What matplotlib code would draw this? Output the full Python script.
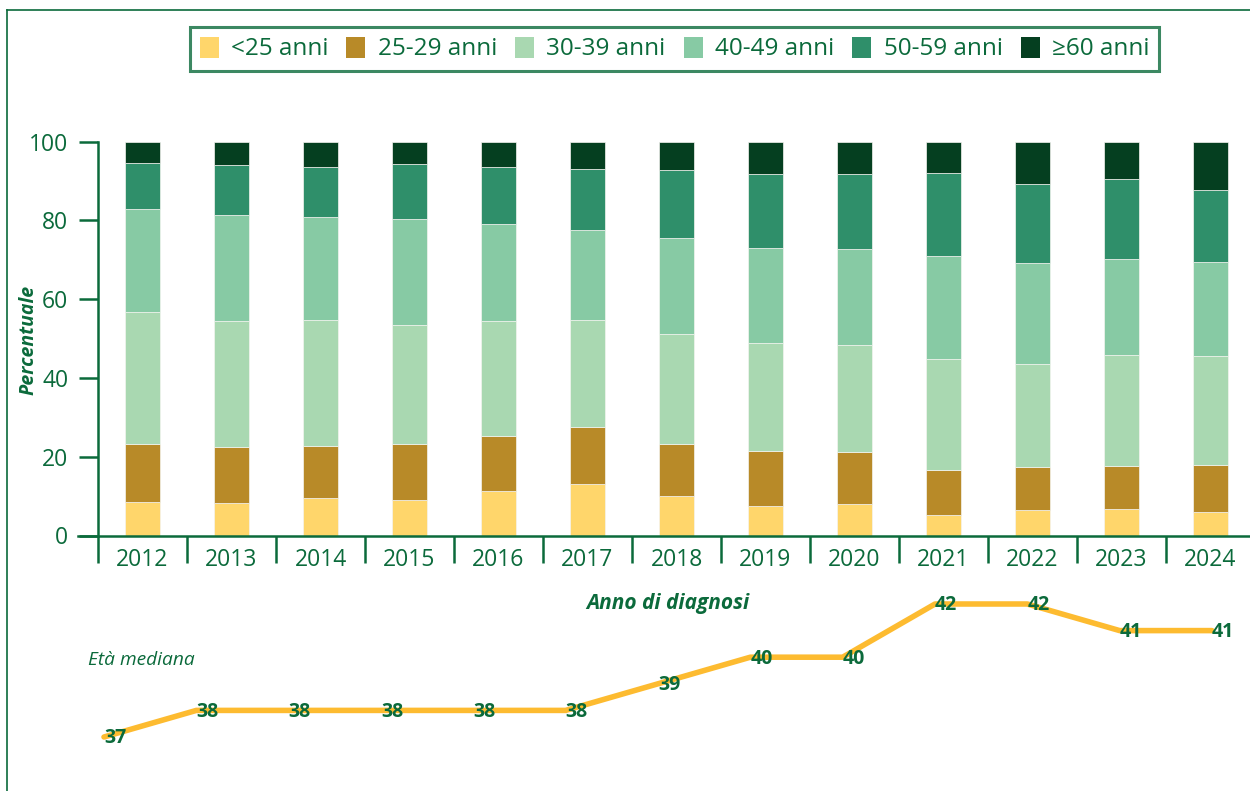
import numpy as np
import matplotlib.pyplot as plt
from matplotlib.patches import Patch
from matplotlib.lines import Line2D

plt.rcParams['font.family'] = ['Open Sans', 'DejaVu Sans']

# Data
years = ["2012", "2013", "2014", "2015", "2016", "2017", "2018",
         "2019", "2020", "2021", "2022", "2023", "2024"]
age_groups = ["<25 anni", "25-29 anni", "30-39 anni", "40-49 anni", "50-59 anni", "≥60 anni"]
under25 = [8.6, 8.2, 9.5, 8.9, 11.2, 13.0, 10.1, 7.6, 7.9, 5.2, 6.6, 6.7, 6.0]
age25_29 = [14.6, 14.3, 13.2, 14.3, 14.1, 14.6, 13.1, 13.8, 13.4, 11.5, 10.8, 10.9, 11.9]
age30_39 = [33.6, 32.0, 32.0, 30.3, 29.2, 27.0, 28.0, 27.5, 27.1, 28.1, 26.1, 28.2, 27.7]
age40_49 = [26.1, 26.9, 26.2, 26.8, 24.6, 23.1, 24.3, 24.2, 24.4, 26.2, 25.8, 24.3, 23.9]
age50_59 = [11.7, 12.7, 12.7, 14.0, 14.5, 15.4, 17.3, 18.7, 19.0, 21.0, 20.0, 20.4, 18.3]
over60 = [5.4, 5.9, 6.4, 5.7, 6.4, 6.9, 7.2, 8.2, 8.2, 8.0, 10.7, 9.5, 12.2]
median_age = [37, 38, 38, 38, 38, 38, 39, 40, 40, 42, 42, 41, 41]

colors = ["#FFD66B", "#B88A28", "#A9D8B1", "#87CAA4", "#2F8F6A", "#053F20"]
green = "#0B6A3B"
W, H = 1250, 791

fig = plt.figure(figsize=(12.5, 7.91), dpi=100)

# frame lines (top and left)
fig.add_artist(Line2D([7 / W, 1], [1 - 10 / H, 1 - 10 / H], color=green, lw=1.2))
fig.add_artist(Line2D([7 / W, 7 / W], [0, 1 - 10 / H], color=green, lw=1.2))

# stacked bars
ax = fig.add_axes([98 / W, 1 - 535.5 / H, 1157 / W, (535.5 - 141.7) / H])
x = np.arange(len(years))
series = [under25, age25_29, age30_39, age40_49, age50_59, over60]
bottom = np.zeros(len(years))
for vals, c in zip(series, colors):
    ax.bar(x, vals, bottom=bottom, width=0.4, color=c, edgecolor="#f4f4f0", linewidth=0.5)
    bottom += np.array(vals)

ax.set_xlim(-0.5, 12.5)
ax.set_ylim(0, 100)
for s in ["top", "right"]:
    ax.spines[s].set_visible(False)
for s in ["left", "bottom"]:
    ax.spines[s].set_color(green)
    ax.spines[s].set_linewidth(1.8)
ax.spines["bottom"].set_bounds(-0.72, 12.5)

ax.set_yticks([0, 20, 40, 60, 80, 100])
ax.tick_params(axis="y", length=13.5, width=1.8, color=green, labelcolor=green,
               labelsize=16.5, pad=8)
ax.set_xticks(np.arange(-0.5, 13, 1))
ax.set_xticklabels([])
ax.tick_params(axis="x", which="major", length=19.5, width=1.8, color=green)
ax.set_xticks(x, minor=True)
ax.set_xticklabels(years, minor=True)
ax.tick_params(axis="x", which="minor", length=0, pad=9, labelcolor=green, labelsize=16.5)

fig.text(28 / W, 1 - 340 / H, "Percentuale", rotation=90, ha="center", va="center",
         fontsize=14, fontweight="bold", fontstyle="italic", color=green)
fig.text(668 / W, 1 - 603 / H, "Anno di diagnosi", ha="center", va="center",
         fontsize=15, fontweight="bold", fontstyle="italic", color=green)
fig.text(88 / W, 1 - 660 / H, "Età mediana", ha="left", va="center",
         fontsize=13.8, fontstyle="italic", color=green)

# legend
handles = [Patch(facecolor=c, edgecolor="none") for c in colors]
leg = fig.legend(handles, age_groups, loc="center", bbox_to_anchor=(674.5 / W, 1 - 49 / H),
                 ncol=6, frameon=True, fancybox=False, edgecolor=green, fontsize=17.5,
                 handlelength=0.78, handleheight=0.95, handletextpad=0.5,
                 columnspacing=0.75, borderpad=0.4, labelcolor=green)
leg.get_frame().set_linewidth(2.2)

# median age line
ax2 = fig.add_axes([104 / W, 1 - 737 / H, 1108 / W, 133 / H])
ax2.set_xlim(0, 12)
ax2.set_ylim(37, 42)
ax2.axis("off")
ax2.plot(range(len(years)), median_age, color="#FDBB30", lw=4,
         solid_capstyle="round", clip_on=False)
for i, v in enumerate(median_age):
    ax2.annotate(str(v), (i, v), xytext=(8, -1), textcoords="offset points",
                 ha="center", va="center", fontsize=14, fontweight="bold",
                 color=green, annotation_clip=False)

fig.savefig("out.png", dpi=100)
